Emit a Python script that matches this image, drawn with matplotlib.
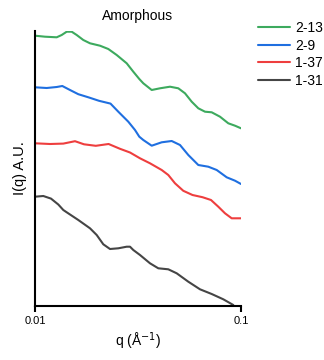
import numpy as np
import matplotlib
matplotlib.use("Agg")
import matplotlib.pyplot as plt

plt.rcParams['font.family'] = ['Liberation Sans', 'DejaVu Sans']

# values: x in pixel units along log axis (35 -> q=0.01, 241 -> q=0.1)
def q_of(px):
    return 10 ** (-2 + (np.asarray(px) - 35) / 206.0)

g_px = [35, 45, 56.7, 61.7, 66.7, 71.7, 76.7, 83.3, 90, 100, 108.3, 116.7, 126.7, 133.3, 139.3,
        143.3, 151.7, 160, 170, 178.3, 185, 191.7, 198.3, 205, 211.7, 220, 228.3, 235, 241]
g_py = [35.7, 36.7, 37.3, 35, 31.7, 31.7, 35, 40, 43.3, 45.7, 49, 55, 63.3, 71.7, 79,
        83.3, 90, 88.3, 86.7, 88.3, 93.3, 101.7, 108.3, 111.7, 112.3, 116.7, 123.3, 125.7, 128.3]
b_px = [35, 46.7, 56.7, 62.3, 70, 78.3, 89, 99, 110.5, 118.3, 128.3, 135, 139.3, 143.3, 151.7,
        161.7, 171.7, 180, 188.3, 198.3, 208.3, 216.7, 226.7, 235, 241]
b_py = [87.3, 88, 87, 86, 90, 94.2, 97.5, 100.8, 103.6, 111.7, 121.7, 130, 136.7, 140, 145.7,
        142.3, 141, 145, 155, 165, 166.7, 170, 177.3, 180.7, 184]
r_px = [35, 50, 63.3, 75, 84, 95.8, 108.6, 120, 130, 140, 150, 161.7, 168.3, 175, 183.3,
        192.5, 202.5, 211, 218.3, 225, 231.7, 241]
r_py = [143.3, 144, 143.6, 141.2, 144.3, 145.8, 144, 148.8, 152.5, 158.3, 163.3, 170, 175, 183.3, 190.8,
        195, 197.2, 200, 206.7, 213.3, 218.3, 218.3]
k_px = [35, 43.3, 51, 58.3, 63.3, 66.7, 78.3, 90, 96.7, 103.3, 110, 118.3, 126.7, 130, 133.3,
        140, 150, 158.3, 168.3, 176.7, 188.3, 200, 211.7, 223.3, 233.3]
k_py = [196.7, 196, 198.6, 204.5, 210, 212.3, 220, 228.3, 235, 244.3, 249, 248.3, 246.7, 246.7, 250,
        255, 263.3, 268.3, 269.3, 273.3, 281.7, 289.3, 294, 299.3, 305]

names = ["2-13", "2-9", "1-37", "1-31"]
colors = ["#3daa5e", "#1f6fe0", "#ee3e3e", "#454545"]
xs = [g_px, b_px, r_px, k_px]
ys = [g_py, b_py, r_py, k_py]

fig = plt.figure(figsize=(3.24, 3.6), dpi=100)
ax = fig.add_axes([35/324, 54/360, 206/324, 275/360])

for name, px, py, c in zip(names, xs, ys, colors):
    ax.plot(q_of(px), 306 - np.asarray(py), color=c, lw=1.5, label=name,
            solid_capstyle='round', solid_joinstyle='round')

ax.set_xscale('log')
ax.set_xlim(0.01, 0.1)
ax.set_ylim(0, 275)
ax.set_xticks([0.01, 0.1])
ax.set_xticklabels(["0.01", "0.1"])
ax.xaxis.set_minor_locator(matplotlib.ticker.NullLocator())
ax.set_yticks([])
ax.tick_params(axis='x', direction='out', length=4, width=1.5, labelsize=8, pad=3.5)
for s in ['top', 'right']:
    ax.spines[s].set_visible(False)
for s in ['left', 'bottom']:
    ax.spines[s].set_linewidth(1.5)
    ax.spines[s].set_color('black')

ax.set_title("Amorphous", fontsize=10, pad=8)
ax.set_ylabel("I(q) A.U.", fontsize=10.5, labelpad=6)
ax.set_xlabel("q (Å$^{-1}$)", fontsize=10, labelpad=3)

ax.legend(loc='upper left', bbox_to_anchor=(1.083, 1.036), frameon=False, fontsize=10,
          handlelength=2.3, handletextpad=0.35, labelspacing=0.25, borderaxespad=0,
          borderpad=0)

fig.savefig("out.png", dpi=100)
